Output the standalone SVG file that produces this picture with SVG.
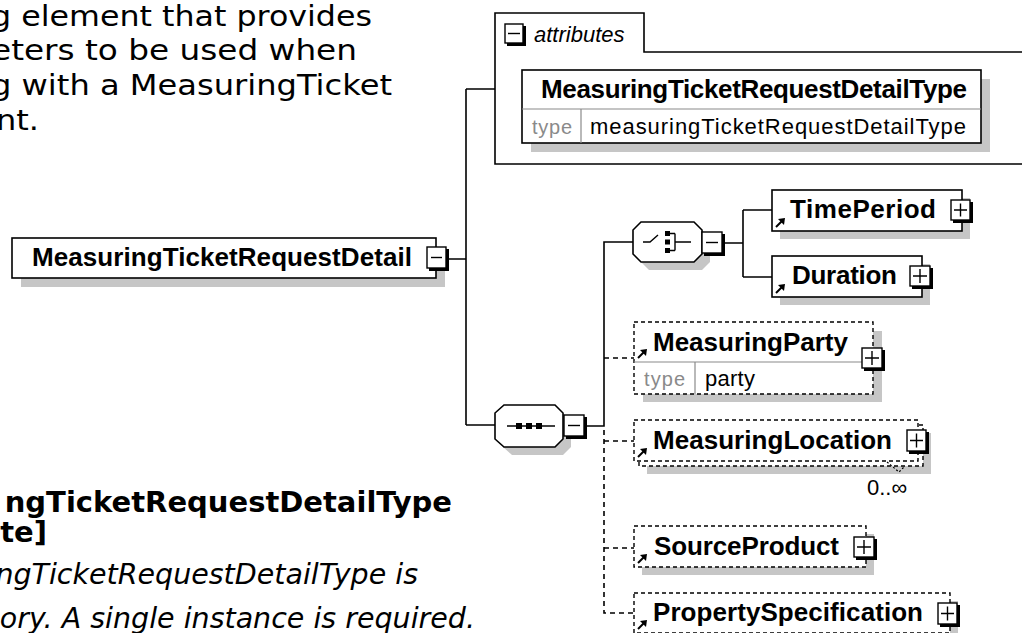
<svg xmlns="http://www.w3.org/2000/svg" width="1022" height="633" viewBox="0 0 1022 633">
<defs>
<style>
.doc{font-family:"DejaVu Sans","Verdana",sans-serif;fill:#000}
.lbl{font-family:"Liberation Sans",Arial,sans-serif;font-weight:bold;font-size:26px;fill:#000}
.reg{font-family:"Liberation Sans",Arial,sans-serif;font-size:22px;fill:#000}
.typ{font-family:"Liberation Sans",Arial,sans-serif;font-size:20px;fill:#8a8a8a}
.box{fill:#fff;stroke:#000;stroke-width:1.6}
.dbox{fill:#fff;stroke:#000;stroke-width:1.4;stroke-dasharray:4,3}
.shd{fill:#c6c6c6;stroke:none}
.ln{fill:none;stroke:#000;stroke-width:1.6}
.dl{fill:none;stroke:#000;stroke-width:1.6;stroke-dasharray:5,4}
.sep{stroke:#8a8a8a;stroke-width:1.2;fill:none}
.bs{fill:#000}
.bw{fill:#fff;stroke:#000;stroke-width:1.4}
.sg{stroke:#000;stroke-width:1.4;fill:none}
</style>
<g id="ref">
<line x1="0" y1="0" x2="6" y2="-6" stroke="#000" stroke-width="2"/>
<polygon points="9,-9 2,-8 8,-2" fill="#000"/>
</g>
</defs>

<g id="doc-top">
<text class="doc" font-size="29" x="-9" y="26" textLength="381" lengthAdjust="spacingAndGlyphs">g element that provides</text>
<text class="doc" font-size="29" x="-9" y="60" textLength="366" lengthAdjust="spacingAndGlyphs">eters to be used when</text>
<text class="doc" font-size="29" x="-9" y="95" textLength="401" lengthAdjust="spacingAndGlyphs">g with a MeasuringTicket</text>
<text class="doc" font-size="29" x="-4" y="130" textLength="43" lengthAdjust="spacingAndGlyphs">nt.</text>
</g>
<g id="doc-bottom">
<text class="doc" font-size="29" font-weight="bold" x="452" y="512" text-anchor="end">ngTicketRequestDetailType</text>
<text class="doc" font-size="29" font-weight="bold" x="47" y="542" text-anchor="end">te]</text>
<text class="doc" font-size="28.5" font-style="italic" x="418" y="584" text-anchor="end">ngTicketRequestDetailType is</text>
<text class="doc" font-size="28.5" font-style="italic" x="475" y="628" text-anchor="end">ory. A single instance is required.</text>
</g>

<g id="connectors">
<path class="ln" d="M449,259 H466 M466,89 V425 M466,89 H495 M466,425 H495"/>
<path class="ln" d="M587,426 H604 V242 H633"/>
<path class="ln" d="M725,243 H743 M743,210 V277 M743,210 H772 M743,277 H772"/>
<path class="dl" d="M604,358 H634"/>
<path class="dl" d="M604,430 V613 H634 M604,441 H634 M604,548 H634"/>
</g>

<g id="MeasuringTicketRequestDetail">
<rect class="shd" x="21" y="247" width="424" height="40"/>
<rect class="box" x="12" y="238" width="424" height="40"/>
<text class="lbl" x="32" y="266" textLength="380">MeasuringTicketRequestDetail</text>
<rect class="bs" x="429" y="249" width="20" height="22"/>
<rect class="bw" x="427" y="247" width="19" height="21"/>
<line class="sg" x1="431" y1="257.5" x2="442" y2="257.5"/>
</g>

<g id="attributes">
<path class="box" d="M1030,52 H644 V13 H495 V164 H1030"/>
<rect class="bs" x="507" y="26" width="19" height="20"/>
<rect class="bw" x="505" y="24" width="18" height="19"/>
<line class="sg" x1="508" y1="33.5" x2="520" y2="33.5"/>
<text class="reg" font-style="italic" font-size="23" x="534" y="42">attributes</text>
<rect class="shd" x="531" y="79" width="459" height="73"/>
<rect class="box" x="522" y="70" width="459" height="73"/>
<line class="sep" x1="522" y1="109" x2="981" y2="109"/>
<line class="sep" x1="581" y1="109" x2="581" y2="143"/>
<text class="lbl" x="541" y="98" font-size="25" textLength="426">MeasuringTicketRequestDetailType</text>
<text class="typ" x="532" y="134" textLength="40">type</text>
<text class="reg" x="590" y="134" font-size="23" textLength="376">measuringTicketRequestDetailType</text>
</g>

<g id="choice">
<polygon class="shd" points="649,230 702,230 710,238 710,262 702,270 649,270 641,262 641,238"/>
<polygon class="box" points="641,222 694,222 702,230 702,254 694,262 641,262 633,254 633,230"/>
<path class="sg" d="M643,242 H650 L658,235 M669,233.5 H675 M669,250.5 H675 M675,233.5 V250.5 M675,242 H691"/>
<rect class="bs" x="665" y="231" width="5" height="5"/>
<rect class="bs" x="665" y="239.5" width="5" height="5"/>
<rect class="bs" x="665" y="248" width="5" height="5"/>
<rect class="bs" x="704" y="234" width="21" height="22"/>
<rect class="bw" x="702" y="232" width="20" height="21"/>
<line class="sg" x1="706" y1="242.5" x2="718" y2="242.5"/>
</g>

<g id="sequence">
<polygon class="shd" points="512,413 563,413 571,421 571,447 563,455 512,455 503,447 503,421"/>
<polygon class="box" points="504,405 555,405 563,413 563,439 555,447 504,447 495,439 495,413"/>
<line class="sg" x1="507" y1="426" x2="555" y2="426"/>
<rect class="bs" x="516" y="423" width="6" height="6"/>
<rect class="bs" x="526" y="423" width="6" height="6"/>
<rect class="bs" x="536" y="423" width="6" height="6"/>
<rect class="bs" x="566" y="417" width="21" height="22"/>
<rect class="bw" x="564" y="415" width="20" height="21"/>
<line class="sg" x1="568" y1="425.5" x2="580" y2="425.5"/>
</g>

<g id="TimePeriod">
<rect class="shd" x="780" y="198" width="190" height="41"/>
<rect class="box" x="772" y="190" width="190" height="41"/>
<text class="lbl" x="790" y="218" textLength="146">TimePeriod</text>
<use href="#ref" x="776" y="227"/>
<rect class="bs" x="953" y="202" width="20" height="21"/>
<rect class="bw" x="951" y="200" width="19" height="20"/>
<path class="sg" d="M954,210 H967 M960.5,203.5 V216.5"/>
</g>

<g id="Duration">
<rect class="shd" x="780" y="264" width="150" height="41"/>
<rect class="box" x="772" y="256" width="150" height="41"/>
<text class="lbl" x="792" y="284" textLength="105">Duration</text>
<use href="#ref" x="776" y="293"/>
<rect class="bs" x="912" y="268" width="21" height="21"/>
<rect class="bw" x="910" y="266" width="20" height="20"/>
<path class="sg" d="M913,276 H927 M920,269 V283"/>
</g>

<g id="MeasuringParty">
<rect class="shd" x="643" y="331" width="239" height="71"/>
<rect class="dbox" x="634" y="322" width="239" height="72"/>
<line class="sep" x1="634" y1="362" x2="873" y2="362"/>
<line class="sep" x1="695" y1="362" x2="695" y2="394"/>
<text class="lbl" x="653" y="351" textLength="195">MeasuringParty</text>
<use href="#ref" x="638" y="358"/>
<text class="typ" x="644" y="386" textLength="41">type</text>
<text class="reg" x="705" y="386" textLength="50">party</text>
<rect class="bs" x="864" y="350" width="21" height="21"/>
<rect class="bw" x="862" y="348" width="20" height="20"/>
<path class="sg" d="M865,358 H879 M872,351 V365"/>
</g>

<g id="MeasuringLocation">
<rect class="shd" x="647" y="433" width="284" height="41"/>
<rect class="dbox" x="639" y="425" width="284" height="41"/>
<rect class="dbox" x="634" y="420" width="284" height="41"/>
<text class="lbl" x="653" y="449" textLength="239">MeasuringLocation</text>
<use href="#ref" x="638" y="457"/>
<rect class="bs" x="909" y="432" width="20" height="22"/>
<rect class="bw" x="907" y="430" width="19" height="21"/>
<path class="sg" d="M910,440.5 H923 M916.5,433.5 V447.5"/>
<polyline points="887,462 899,472 904,467" fill="none" stroke="#000" stroke-width="1.2" stroke-dasharray="2,2"/>
<text class="reg" font-size="17" x="867" y="495" fill="#1a1a40">0..∞</text>
</g>

<g id="SourceProduct">
<rect class="shd" x="642" y="534" width="232" height="41"/>
<rect class="dbox" x="634" y="526" width="232" height="41"/>
<text class="lbl" x="654" y="555" textLength="185">SourceProduct</text>
<use href="#ref" x="638" y="563"/>
<rect class="bs" x="856" y="539" width="21" height="21"/>
<rect class="bw" x="854" y="537" width="20" height="20"/>
<path class="sg" d="M857,547 H871 M864,540 V554"/>
</g>

<g id="PropertySpecification">
<rect class="shd" x="642" y="601" width="316" height="41"/>
<rect class="dbox" x="634" y="593" width="316" height="40"/>
<text class="lbl" x="653" y="621" textLength="270">PropertySpecification</text>
<use href="#ref" x="638" y="629"/>
<rect class="bs" x="940" y="605" width="20" height="22"/>
<rect class="bw" x="938" y="603" width="19" height="21"/>
<path class="sg" d="M941,613.5 H954 M947.5,606.5 V620.5"/>
</g>
</svg>
